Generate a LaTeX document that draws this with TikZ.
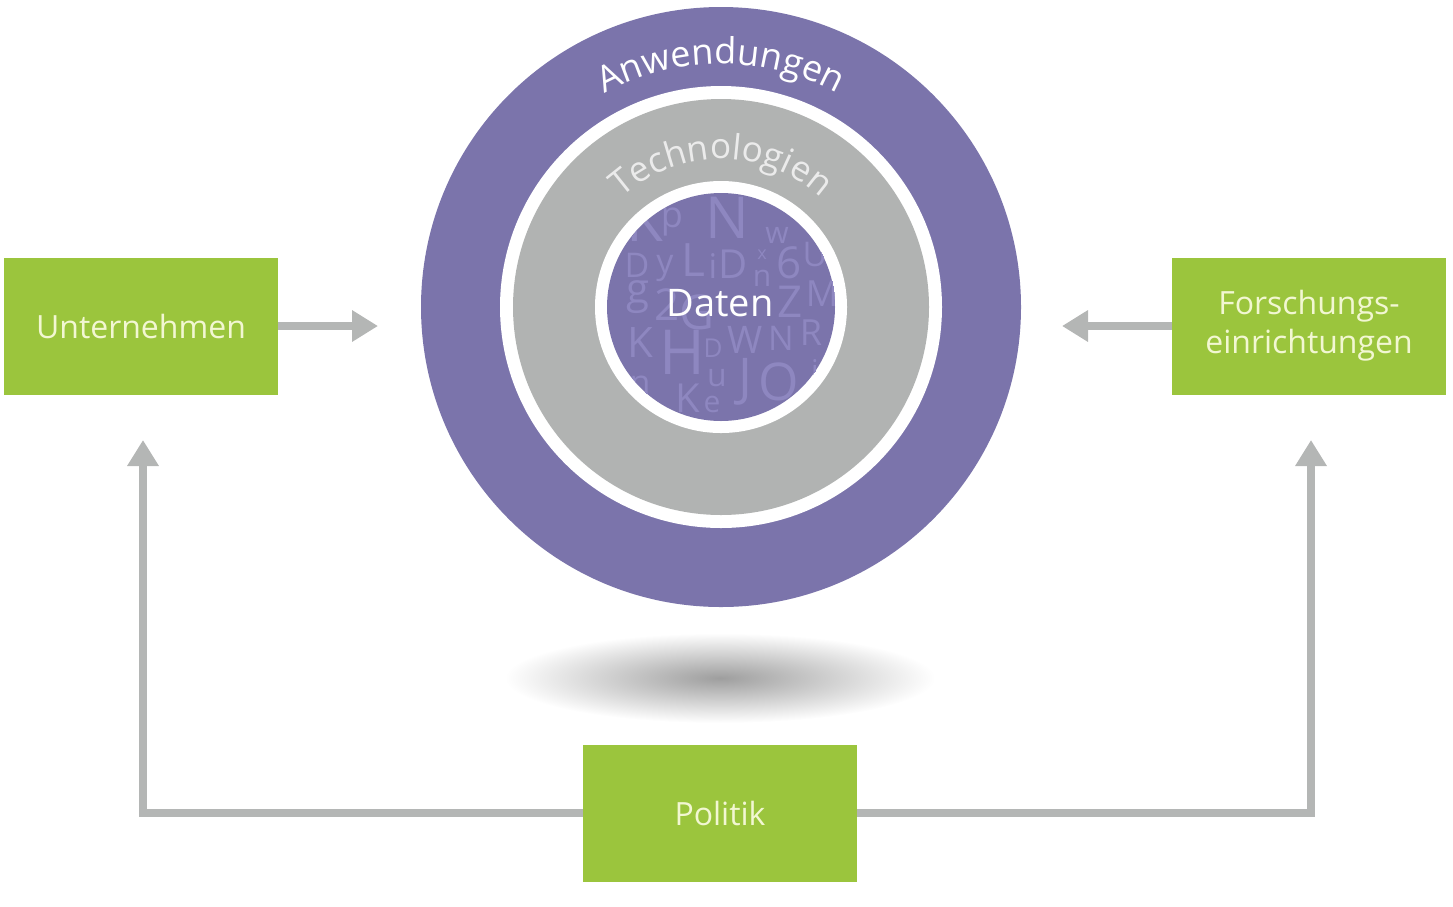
\documentclass[tikz,border=0pt]{standalone}
\usepackage{fontspec}
\setmainfont{Open Sans}
\usepackage{tikz}
\usetikzlibrary{arrows.meta,decorations.text,calc}

\definecolor{ringpurple}{HTML}{7B74AB}
\definecolor{ringgray}{HTML}{B1B3B2}
\definecolor{boxgreen}{HTML}{9BC53D}
\definecolor{boxtext}{HTML}{F2F7D2}
\definecolor{arrowgray}{HTML}{B4B6B5}
\definecolor{letterpurple}{HTML}{8E87C0}

\tikzset{
  box/.style={fill=boxgreen, minimum width=274pt, minimum height=137pt,
    inner sep=0pt, text=boxtext, align=center,
    font=\fontsize{32}{39}\selectfont},
  conn/.style={draw=arrowgray, line width=8pt,
    -{Triangle[length=26pt,width=30pt]}},
  bgletter/.style={text=letterpurple, inner sep=0pt},
}

\begin{document}
\begin{tikzpicture}[x=1pt,y=-1pt]
  \useasboundingbox (0,0) rectangle (1453,906);

  % rings
  \coordinate (c) at (721,307);
  \fill[ringpurple] (c) circle (300);
  \fill[white] (c) circle (221);
  \fill[ringgray] (c) circle (208);
  \fill[white] (c) circle (126);
  \fill[ringpurple] (c) circle (114);

  % letters behind "Daten"
  \begin{scope}
    \clip (c) circle (114);
    \foreach \x/\y/\l/\s [count=\k] in {
        645/220/K/60, 672/222/p/36, 727/218/N/58, 777/235/w/30, 815/255/U/34,
        637/265/D/34, 665/268/y/34, 693/260/L/46, 713/266/i/34, 733/264/D/40,
        762/255/x/18, 762/278/n/30, 789/263/6/44, 638/297/g/42, 667/305/2/44,
        697/312/G/48, 790/302/Z/44, 822/294/M/36, 640/342/K/42, 682/352/H/62,
        713/348/D/26, 745/340/W/38, 781/338/N/34, 811/333/R/36, 717/378/u/32,
        745/382/J/52, 779/382/O/52, 815/370/i/30, 640/385/n/34, 688/398/K/40,
        712/404/e/30}
      \node[bgletter, font=\fontsize{\s}{\s}\selectfont] (bg\k) at (\x,\y) {\l};
  \end{scope}
  \node[text=white, font=\fontsize{38}{38}\selectfont] (daten) at (720,303) {Daten};

  % curved labels
  \path[decorate, decoration={text along path, text align=center,
      text={|\fontsize{36}{36}\selectfont\color{white}|Anwendungen}}]
    ($(c)+(190:243)$) arc[start angle=190, end angle=350, radius=243];
  \path[decorate, decoration={text along path, text align=center,
      text={|\fontsize{35}{35}\selectfont\color{black!8}|Technologien}}]
    ($(c)+(190:148)$) arc[start angle=190, end angle=350, radius=148];

  % shadow
  \shade[inner color=black!38, outer color=white] (720,678) ellipse (215 and 45);

  % boxes
  \node[box] (unt) at (141,326) {Unternehmen};
  \node[box] (fors) at (1309,326) {Forschungs-\\einrichtungen};
  \node[box] (pol) at (720,813) {Politik};

  % arrows
  \coordinate (unttip) at (378,326);
  \coordinate (forstip) at (1062,326);
  \coordinate (ltip) at (143,440);
  \coordinate (rtip) at (1311,440);
  \draw[conn] (unt.east) -- (unttip);
  \draw[conn] (fors.west) -- (forstip);
  \draw[conn] (pol.west) -| (ltip);
  \draw[conn] (pol.east) -| (rtip);
\end{tikzpicture}
\end{document}
